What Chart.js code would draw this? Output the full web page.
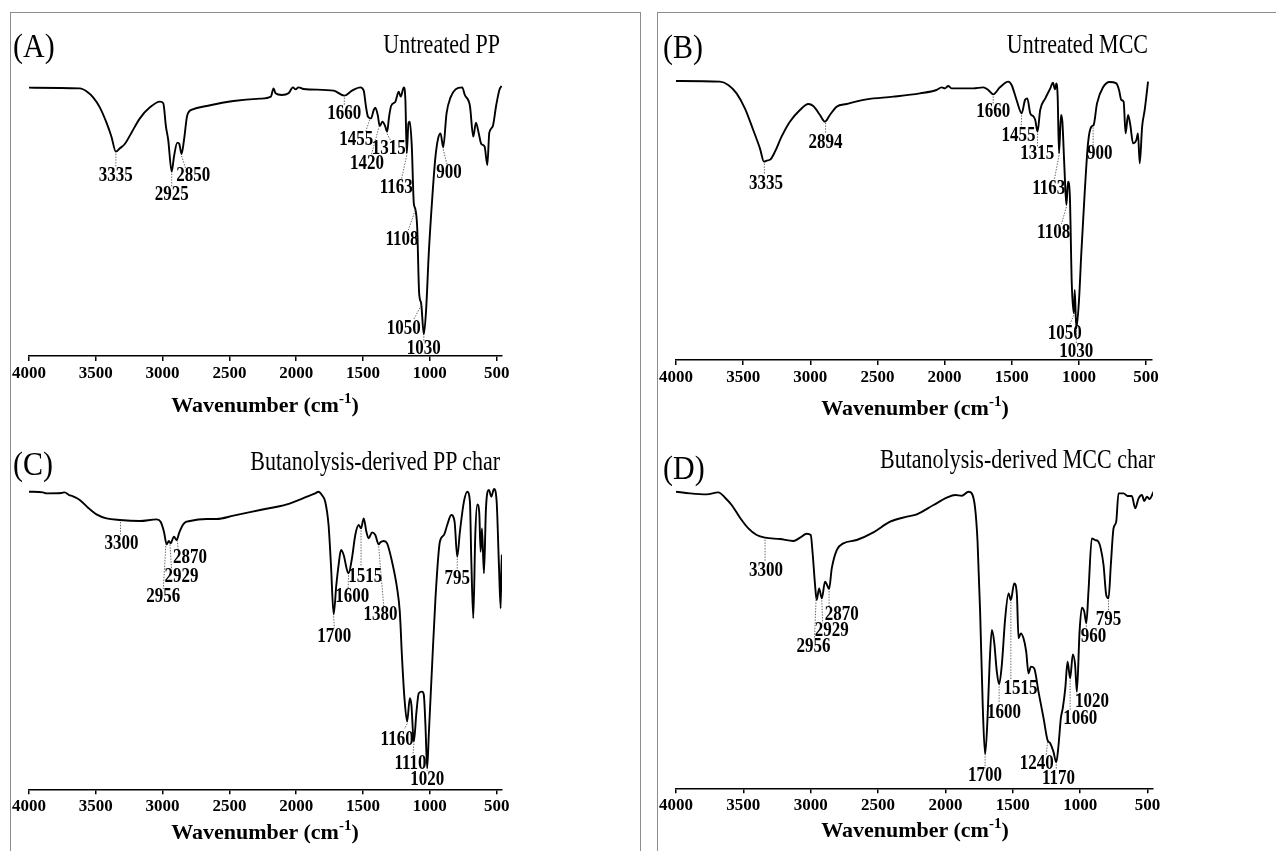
<!DOCTYPE html>
<html>
<head>
<meta charset="utf-8">
<script src="https://cdn.jsdelivr.net/npm/chart.js@4.4.1/dist/chart.umd.min.js"></script>
<style>
  body { margin: 0; background: #fff; font-family: 'Liberation Serif', 'Times New Roman', serif; }
  #page { position: relative; width: 1276px; height: 851px; overflow: hidden; background: #fff; }
  .frame { position: absolute; top: 12px; height: 900px; border: 1.5px solid #8c8c8c; box-sizing: border-box; }
  canvas { position: absolute; }
  .tag { position: absolute; font-size: 30px; line-height: 1; transform: scaleY(1.15); transform-origin: left center; white-space: nowrap; }
  .title { position: absolute; font-size: 22px; line-height: 1; transform: scaleY(1.25); transform-origin: right center; white-space: nowrap; }
  .xlab { position: absolute; font-size: 22px; font-weight: bold; line-height: 1; white-space: nowrap; transform: translate(-50%, -50%); }
  .xlab sup { font-size: 15px; vertical-align: 9px; line-height: 0; }
</style>
</head>
<body>
<div id="page">
  <div class="frame" style="left:10px; width:631px;"></div>
  <div class="frame" style="left:657px; width:700px;"></div>

  <canvas id="chartA" width="630" height="413" style="left:10px; top:12px;"></canvas>
  <canvas id="chartB" width="619" height="413" style="left:657px; top:12px;"></canvas>
  <canvas id="chartC" width="630" height="426" style="left:10px; top:425px;"></canvas>
  <canvas id="chartD" width="619" height="426" style="left:657px; top:425px;"></canvas>

  <div class="tag" style="left:13px; top:30px;">(A)</div>
  <div class="tag" style="left:663px; top:31px;">(B)</div>
  <div class="tag" style="left:13px; top:448px;">(C)</div>
  <div class="tag" style="left:663px; top:452px;">(D)</div>

  <div class="title" style="right:776px; top:33px;">Untreated PP</div>
  <div class="title" style="right:128px; top:33px;">Untreated MCC</div>
  <div class="title" style="right:776px; top:450px;">Butanolysis-derived PP char</div>
  <div class="title" style="right:121px; top:448px;">Butanolysis-derived MCC char</div>

  <div class="xlab" style="left:265px; top:405px;">Wavenumber (cm<sup>-1</sup>)</div>
  <div class="xlab" style="left:915px; top:408px;">Wavenumber (cm<sup>-1</sup>)</div>
  <div class="xlab" style="left:265px; top:832px;">Wavenumber (cm<sup>-1</sup>)</div>
  <div class="xlab" style="left:915px; top:830px;">Wavenumber (cm<sup>-1</sup>)</div>
</div>

<script>
// tick labels shared by all four panels
const tickWn = [4000, 3500, 3000, 2500, 2000, 1500, 1000, 500];

// (A) Untreated PP
const wnA = [4000,3620,3565,3520,3470,3420,3383,3350,3320,3283,3233,3170,3095,3020,2995,2975,2958,2932,2915,2890,2875,2858,2840,2815,2775,2670,2470,2270,2190,2170,2155,2108,2058,2025,2005,1983,1945,1720,1640,1583,1520,1495,1478,1463,1440,1420,1408,1390,1375,1355,1335,1320,1305,1290,1258,1233,1218,1195,1183,1173,1160,1150,1135,1120,1110,1095,1080,1065,1045,1028,1008,983,958,938,920,900,875,845,808,758,738,700,675,655,635,615,590,570,555,530,503,478,463];
const tA = [80.5,80.3,79.3,77.6,74.6,70.0,65.8,61.3,62.3,63.6,67.0,71.3,74.6,76.3,75.8,68.8,64.8,55.3,59.8,64.0,63.6,60.6,64.8,72.3,74.0,75.0,76.5,77.2,77.8,80.3,78.8,78.3,78.8,80.6,80.0,80.6,80.1,79.6,78.1,79.6,80.6,79.6,74.8,71.8,71.3,73.8,74.5,72.3,69.0,70.3,69.0,67.3,71.8,75.0,76.3,79.3,77.8,80.6,76.8,60.8,69.8,70.3,62.8,45.8,44.3,38.8,18.8,15.8,6.5,13.8,30.8,46.8,59.8,65.3,66.8,62.6,72.8,77.6,80.0,80.6,78.3,75.0,65.8,70.0,67.0,63.6,62.8,57.3,67.0,68.8,75.3,80.0,81.0];
const peakTextA = ['3335','2925','2850','1660','1455','1420','1315','1163','1108','1050','1030','900'];
const peakWnA = [3350, 2932, 2858, 1640, 1450, 1378, 1320, 1173, 1110, 1065, 1045, 900];

// (B) Untreated MCC
const wnB = [4000,3673,3611,3549,3487,3425,3375,3345,3325,3296,3263,3214,3152,3077,3015,2978,2928,2891,2854,2804,2730,2581,2382,2184,2060,2022,1997,1973,1948,1787,1712,1675,1638,1588,1526,1501,1464,1426,1401,1384,1362,1337,1325,1308,1288,1250,1213,1193,1178,1168,1158,1148,1133,1123,1108,1093,1081,1068,1053,1038,1031,1019,999,982,957,932,907,890,865,820,771,721,701,684,667,652,634,617,597,572,560,547,529,510,485];
const tB = [83.7,83.5,82.5,80.0,75.5,69.0,63.5,59.5,59.8,60.2,62.5,67.0,71.5,75.0,76.8,76.2,73.5,71.5,73.5,76.0,76.8,78.2,79.0,80.0,81.0,81.8,81.5,82.2,81.5,81.5,81.8,81.0,79.7,81.8,83.5,82.5,78.0,74.0,78.0,78.5,74.0,73.0,72.0,68.5,75.0,78.5,81.5,83.2,81.2,83.0,79.0,62.0,73.5,71.5,58.0,46.5,53.5,50.0,23.0,14.0,21.0,9.5,18.0,32.0,50.0,65.0,70.0,70.5,77.0,81.8,83.4,83.0,81.0,78.0,77.5,68.0,73.5,70.5,65.0,66.0,68.0,59.0,70.0,75.0,83.5];
const peakTextB = ['3335','2894','1660','1455','1315','1163','1108','1050','1030','900'];
const peakWnB = [3342, 2886, 1638, 1426, 1308, 1148, 1093, 1038, 1019, 894];

// (C) Butanolysis-derived PP char
const wnC = [4000,3895,3870,3758,3733,3700,3683,3620,3558,3495,3420,3320,3170,3045,3015,2990,2970,2953,2940,2915,2895,2875,2840,2795,2670,2595,2470,2270,2070,1920,1858,1833,1808,1783,1758,1740,1720,1700,1683,1665,1645,1620,1608,1583,1558,1533,1515,1495,1475,1458,1433,1408,1383,1370,1345,1320,1283,1245,1225,1208,1190,1170,1150,1138,1120,1100,1083,1058,1045,1033,1020,1008,983,958,925,895,870,840,815,795,775,745,720,700,690,675,660,645,630,620,610,595,580,558,540,520,500,483,470,463,455];
const tC = [89.3,89.1,88.8,88.9,89.1,88.3,88.1,86.8,84.5,82.5,81.3,80.8,80.5,81.0,80.3,77.3,73.5,74.5,73.8,75.8,74.8,77.1,79.8,80.5,81.1,81.1,82.1,83.8,85.5,87.8,88.8,89.3,88.3,86.3,79.3,67.3,52.5,61.3,67.3,71.8,70.3,65.8,64.8,69.3,76.3,79.3,78.3,81.3,77.3,75.3,77.1,76.3,73.5,74.1,74.5,73.8,68.3,60.3,53.3,39.3,27.3,20.3,27.3,25.3,14.3,23.3,28.8,29.3,28.3,19.3,6.3,16.3,37.3,57.3,74.3,76.3,79.3,82.3,80.3,69.8,77.3,86.3,89.3,86.3,69.3,51.3,76.3,85.5,82.8,71.3,78.3,64.8,84.3,89.8,87.8,90.1,86.3,67.3,54.3,70.3,59.3];
const peakTextC = ['3300','2956','2929','2870','1700','1600','1515','1380','1160','1110','1020','795'];
const peakWnC = [3315, 2975, 2945, 2890, 1720, 1608, 1515, 1383, 1170, 1120, 1020, 795];

// (D) Butanolysis-derived MCC char
const wnD = [4000,3896,3772,3686,3636,3587,3525,3463,3401,3339,3228,3129,3079,3030,3000,2985,2968,2956,2938,2918,2894,2881,2864,2844,2807,2758,2659,2535,2411,2287,2213,2089,1990,1928,1879,1829,1805,1780,1762,1743,1723,1706,1688,1673,1656,1639,1619,1602,1582,1557,1532,1515,1490,1470,1458,1441,1421,1401,1384,1366,1342,1310,1272,1243,1223,1199,1178,1161,1144,1129,1111,1094,1075,1055,1038,1025,1005,988,970,955,939,914,890,865,848,827,807,790,773,753,733,716,678,649,617,592,567,542,525,505,485,456];
const tD = [89.0,88.5,88.2,88.8,87.2,85.0,81.2,78.0,76.0,75.2,74.8,74.2,75.2,76.4,76.0,70.0,61.0,56.5,60.0,57.0,62.0,61.2,59.8,66.0,71.5,73.5,74.5,76.8,80.0,81.5,82.2,85.0,87.2,88.0,87.8,89.0,88.5,84.0,74.0,53.0,24.0,10.2,21.0,37.0,47.5,44.0,35.0,31.2,37.0,51.0,58.5,56.5,61.5,58.0,45.0,46.5,45.0,41.0,34.5,36.5,36.0,29.0,21.0,14.5,13.5,11.0,7.8,13.0,21.0,24.2,30.0,38.0,33.0,40.2,37.0,29.0,47.0,54.2,53.0,49.5,59.0,75.0,74.5,74.0,72.0,67.0,58.0,57.0,67.0,78.0,80.0,88.5,88.5,87.7,87.7,84.0,87.0,88.0,86.2,87.5,86.8,89.0];
const peakTextD = ['3300','2956','2929','2870','1700','1600','1515','1240','1170','1060','1020','960','795'];
const peakWnD = [3339, 2960, 2918, 2864, 1706, 1602, 1515, 1243, 1178, 1075, 1025, 955, 790];

// where each peak label sits: [label x, label y, leader end x, leader end y] in axis units
const placeA = [[3350,54.0,3350,56.8],[2932,48.3,2932,50.7],[2770,54.0,2828,56.3],[1640,72.8,1640,75.0],[1550,64.8,1483,67.0],[1470,57.8,1438,60.3],[1308,62.1,1290,64.3],[1252,50.6,1212,53.1],[1208,34.8,1165,37.3],[1195,8.3,1120,11.0],[1045,2.3,1045,4.6],[857,55.0,870,57.3]];
const placeB = [[3330,53.0,3342,55.8],[2886,65.2,2886,67.8],[1638,74.5,1638,77.0],[1450,67.2,1430,69.5],[1310,61.8,1308,64.0],[1225,51.5,1183,54.0],[1188,38.2,1130,40.8],[1105,8.0,1070,10.5],[1019,2.5,1019,5.0],[845,62.0,894,64.0]];
const placeC = [[3308,73.8,3315,76.5],[2995,57.8,2995,60.1],[2858,63.8,2933,66.1],[2795,69.5,2883,71.8],[1715,45.8,1715,48.3],[1580,57.8,1612,60.3],[1483,63.8,1515,66.8],[1370,52.3,1345,54.8],[1245,14.8,1190,18.1],[1145,7.8,1125,10.8],[1020,2.8,1020,5.5],[795,63.1,795,65.5]];
const placeD = [[3332,65.2,3339,68.0],[2980,42.5,2972,45.0],[2844,47.2,2911,49.5],[2770,52.2,2864,54.5],[1706,3.8,1706,6.0],[1565,22.8,1602,25.5],[1444,29.8,1515,32.5],[1322,7.5,1252,10.0],[1161,3.0,1178,5.5],[1000,21.0,1075,23.5],[913,26.0,1025,28.0],[901,45.5,955,48.0],[790,50.5,790,53.0]];

const serif = "'Liberation Serif', 'Times New Roman', serif";

// linear look-up of the spectrum at a given wavenumber
function curveAt(wn, t, w) {
    for (let i = 1; i < wn.length; i++) {
        if (w >= wn[i]) {
            const f = (wn[i - 1] - w) / (wn[i - 1] - wn[i]);
            return t[i - 1] + f * (t[i] - t[i - 1]);
        }
    }
    return t[t.length - 1];
}

function peakPlugin(wn, t, texts, peaks, places) {
    return {
        id: 'peakLabels',
        afterDatasetsDraw(chart) {
            const { ctx } = chart;
            const x = chart.scales.x, y = chart.scales.y;
            ctx.save();
            texts.forEach((text, i) => {
                const [lx, ly, ex, ey] = places[i];
                const cy = curveAt(wn, t, peaks[i]);
                // dotted leader line
                ctx.beginPath();
                ctx.setLineDash([1.4, 1.4]);
                ctx.strokeStyle = '#555';
                ctx.lineWidth = 0.9;
                ctx.moveTo(x.getPixelForValue(peaks[i]), y.getPixelForValue(cy) + 2);
                ctx.lineTo(x.getPixelForValue(ex), y.getPixelForValue(ey));
                ctx.stroke();
                // label, a little stretched like the original figure
                ctx.save();
                ctx.setLineDash([]);
                ctx.translate(x.getPixelForValue(lx), y.getPixelForValue(ly));
                ctx.scale(1, 1.22);
                ctx.font = 'bold 17px ' + serif;
                ctx.fillStyle = '#000';
                ctx.textAlign = 'center';
                ctx.textBaseline = 'middle';
                ctx.fillText(text, 0, 0);
                ctx.restore();
            });
            ctx.restore();
        }
    };
}

function drawPanel(id, wn, t, yMax, pad, axisH, texts, peaks, places) {
    new Chart(document.getElementById(id), {
        type: 'line',
        data: {
            datasets: [{
                data: wn.map((w, i) => ({ x: w, y: t[i] })),
                borderColor: '#000',
                borderWidth: 1.9,
                pointRadius: 0,
                fill: false,
                cubicInterpolationMode: 'monotone',
            }]
        },
        options: {
            responsive: false,
            animation: false,
            devicePixelRatio: 1,
            layout: { padding: pad },
            plugins: {
                legend: { display: false },
                tooltip: { enabled: false },
            },
            scales: {
                x: {
                    type: 'linear',
                    reverse: true,
                    min: 460,
                    max: 4000,
                    afterBuildTicks: s => { s.ticks = tickWn.map(v => ({ value: v })); },
                    afterFit: s => { s.height = axisH; },
                    ticks: {
                        color: '#000',
                        font: { family: serif, size: 17, weight: 'bold' },
                        padding: 2,
                        maxRotation: 0,
                        autoSkip: false,
                        callback: v => String(v),
                    },
                    grid: { drawOnChartArea: false, drawTicks: true, tickLength: 5, color: '#000', lineWidth: 1.5 },
                    border: { display: true, color: '#000', width: 1.5 },
                },
                y: { display: false, min: 0, max: yMax },
            }
        },
        plugins: [peakPlugin(wn, t, texts, peaks, places)]
    });
}

drawPanel('chartA', wnA, tA, 90, { left: 19, right: 138, top: 44, bottom: 0 }, 69, peakTextA, peakWnA, placeA);
drawPanel('chartB', wnB, tB, 90, { left: 19, right: 124.6, top: 48, bottom: 0 }, 65, peakTextB, peakWnB, placeB);
drawPanel('chartC', wnC, tC, 95, { left: 19, right: 138, top: 47.7, bottom: 0 }, 61.7, peakTextC, peakWnC, placeC);
drawPanel('chartD', wnD, tD, 95, { left: 19, right: 123, top: 46.7, bottom: 0 }, 62.7, peakTextD, peakWnD, placeD);
</script>
</body>
</html>
